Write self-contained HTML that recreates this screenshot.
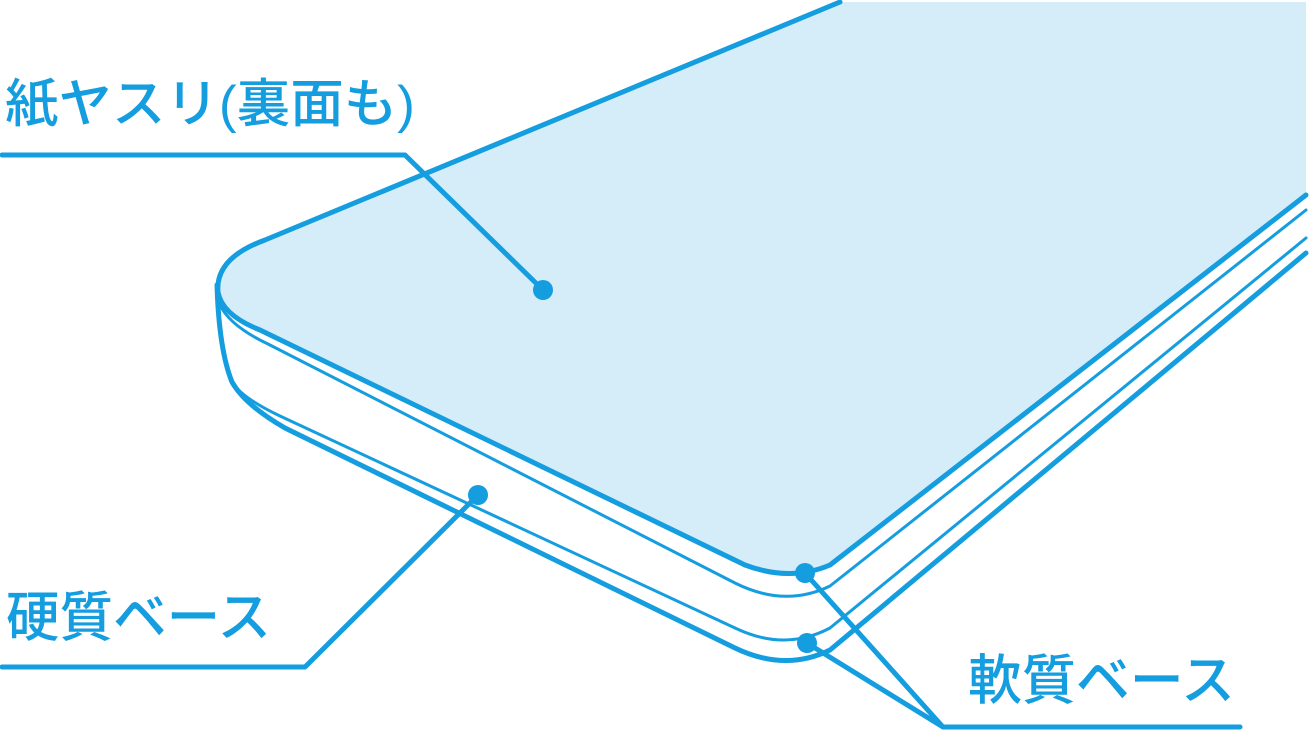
<!DOCTYPE html>
<html><head><meta charset="utf-8"><style>
html,body{margin:0;padding:0;background:#fff;width:1312px;height:736px;overflow:hidden}
svg{display:block}
text{font-family:"Liberation Sans","Noto Sans CJK JP",sans-serif;fill:#149ddf;font-weight:500}
</style></head><body>
<svg width="1312" height="736" viewBox="0 0 1312 736">
<g fill="none" stroke="#149ddf" stroke-linejoin="round" stroke-linecap="round">
<path d="M840,2 L1306,2 L1306,195 L830,565 Q790,582 745,565 L260,330 Q222,315 218,292 Q215,258 265,240 Z" fill="#d5ecf9" stroke="none"/>
<path d="M217,285 Q219,350 232,382 Q245,405 285,428 L735,648 Q785,672 830,650 L1306,253" stroke-width="5"/>
<path d="M232,382 Q242,398 280,416 L735,628 Q785,652 830,628 L1306,238" stroke-width="3"/>
<path d="M220,305 Q230,326 268,344 L735,583 Q785,608 830,586 L1306,210" stroke-width="3"/>
<path d="M840,2 L265,240 Q215,258 218,292 Q222,315 260,330 L745,565 Q790,582 830,565 L1306,195" stroke-width="5"/>
<path d="M2,155 L405,155 L543,290" stroke-width="5"/>
<path d="M2,667 L305,667 L478,495" stroke-width="5"/>
<path d="M805,573 L943,727 L807,643 M943,727 L1240,727" stroke-width="5"/>
</g>
<g fill="#149ddf">
<circle cx="543" cy="290" r="10"/>
<circle cx="478" cy="495" r="10"/>
<circle cx="805" cy="573" r="10"/>
<circle cx="807" cy="643" r="10"/>
</g>
<text x="5" y="122" font-size="52" textLength="410" lengthAdjust="spacingAndGlyphs">紙ヤスリ(裏面も)</text>
<text x="6" y="636" font-size="54" textLength="265" lengthAdjust="spacingAndGlyphs">硬質ベース</text>
<text x="968" y="699" font-size="54" textLength="267" lengthAdjust="spacingAndGlyphs">軟質ベース</text>
</svg>
</body></html>
